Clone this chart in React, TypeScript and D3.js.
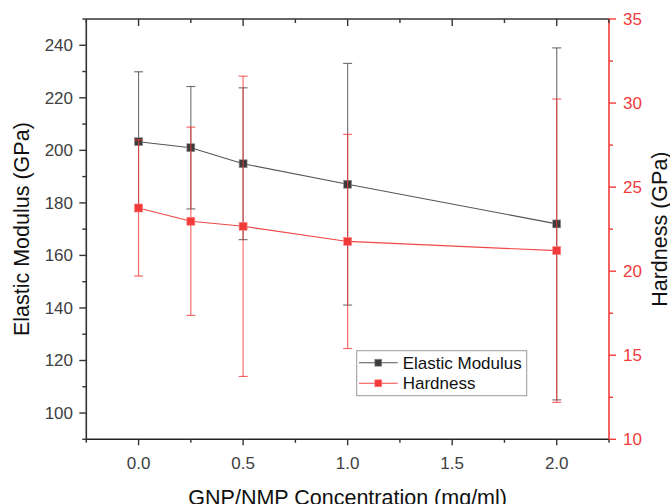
import React from "react";
import * as d3 from "d3";

const concentrations = [0.0, 0.25, 0.5, 1.0, 2.0];
const modulus = [203.3, 201.0, 194.9, 187.1, 172.0];
const modulusErr = [26.6, 23.3, 28.9, 46.0, 67.0];
const hardness = [23.76, 22.97, 22.67, 21.77, 21.22];
const hardnessErr = [4.05, 5.6, 8.93, 6.37, 9.02];
const xTicks = [0, 0.5, 1.0, 1.5, 2.0];
const xMinor = [-0.25, 0.25, 0.75, 1.25, 1.75, 2.25];
const yLeftTicks = [100, 120, 140, 160, 180, 200, 220, 240];
const yLeftMinor = [90, 110, 130, 150, 170, 190, 210, 230, 250];
const yRightTicks = [10, 15, 20, 25, 30, 35];
const yRightMinor = [12.5, 17.5, 22.5, 27.5, 32.5];

const W = 670, H = 504;
const L = 86.3, R = 609, T = 19, B = 439.3;
const FONT = "Arial, 'Liberation Sans', sans-serif";
const BLACK = "#3c3c3c";
const RED = "#f23a3a";

export default function App() {
  const x = d3.scaleLinear().domain([-0.25, 2.25]).range([L, R]);
  const yL = d3.scaleLinear().domain([90, 250]).range([B, T]);
  const yR = d3.scaleLinear().domain([10, 35]).range([B, T]);
  const fmtX = d3.format(".1f");

  const series = [
    { vals: modulus, errs: modulusErr, y: yL, color: BLACK, line: "#555", err: "rgba(60,60,60,0.75)", stroke: "#999" },
    { vals: hardness, errs: hardnessErr, y: yR, color: RED, line: "#f04848", err: "rgba(242,58,58,0.8)", stroke: "#f88" },
  ];

  const ms = 8;
  const cap = 4.5;

  return (
    <svg width={W} height={H} style={{ position: "absolute", left: 0, top: 0, background: "#fff" }}>
      {/* series */}
      {series.map((s, si) => {
        const line = d3.line<number>().x((_, i) => x(concentrations[i])).y((v) => s.y(v));
        return (
          <g key={si}>
            <path d={line(s.vals) || ""} fill="none" stroke={s.line} strokeWidth={1.1} />
            {s.vals.map((v, i) => {
              const cx = x(concentrations[i]);
              const y1 = s.y(v + s.errs[i]);
              const y2 = s.y(v - s.errs[i]);
              return (
                <g key={i} stroke={s.err} strokeWidth={1.1}>
                  <line x1={cx} x2={cx} y1={y1} y2={y2} />
                  <line x1={cx - cap} x2={cx + cap} y1={y1} y2={y1} />
                  <line x1={cx - cap} x2={cx + cap} y1={y2} y2={y2} />
                </g>
              );
            })}
            {s.vals.map((v, i) => (
              <rect key={"m" + i} x={x(concentrations[i]) - ms / 2} y={s.y(v) - ms / 2} width={ms} height={ms}
                fill={s.color} stroke={s.stroke} strokeWidth={0.6} />
            ))}
          </g>
        );
      })}

      {/* frame */}
      <line x1={L} x2={R} y1={T} y2={T} stroke="#333" strokeWidth={1.6} />
      <line x1={L} x2={R} y1={B} y2={B} stroke="#222" strokeWidth={1.6} />
      <line x1={L} x2={L} y1={T} y2={B} stroke="#333" strokeWidth={1.6} />
      <line x1={R} x2={R} y1={T} y2={B} stroke={RED} strokeWidth={1.6} />

      {/* bottom axis */}
      {xTicks.map((t) => (
        <g key={"xb" + t}>
          <line x1={x(t)} x2={x(t)} y1={B} y2={B + 6} stroke="#333" strokeWidth={1.4} />
          <line x1={x(t)} x2={x(t)} y1={T} y2={T + 7} stroke="#333" strokeWidth={1.4} />
          <text x={x(t)} y={468.5} textAnchor="middle" fontFamily={FONT} fontSize={17} fill="#404040">{fmtX(t)}</text>
        </g>
      ))}
      {xMinor.map((t) => (
        <g key={"xm" + t}>
          <line x1={x(t)} x2={x(t)} y1={B} y2={B + 3.5} stroke="#333" strokeWidth={1.4} />
          <line x1={x(t)} x2={x(t)} y1={T} y2={T + 4} stroke="#333" strokeWidth={1.4} />
        </g>
      ))}
      <text x={(L + R) / 2} y={505} textAnchor="middle" fontFamily={FONT} fontSize={21.5} fill="#111">GNP/NMP Concentration (mg/ml)</text>

      {/* left axis */}
      {yLeftTicks.map((t) => (
        <g key={"yl" + t}>
          <line x1={L - 7} x2={L} y1={yL(t)} y2={yL(t)} stroke="#333" strokeWidth={1.4} />
          <text x={73} y={yL(t) + 6} textAnchor="end" fontFamily={FONT} fontSize={17} fill="#404040">{t}</text>
        </g>
      ))}
      {yLeftMinor.map((t) => (
        <line key={"ylm" + t} x1={L - 4} x2={L} y1={yL(t)} y2={yL(t)} stroke="#333" strokeWidth={1.4} />
      ))}
      <text transform={`translate(29,${(T + B) / 2}) rotate(-90)`} textAnchor="middle" fontFamily={FONT} fontSize={21.5} fill="#111">Elastic Modulus (GPa)</text>

      {/* right axis */}
      {yRightTicks.map((t) => (
        <g key={"yr" + t}>
          <line x1={R} x2={R + 7} y1={yR(t)} y2={yR(t)} stroke={RED} strokeWidth={1.4} />
          <text x={623} y={yR(t) + 6} textAnchor="start" fontFamily={FONT} fontSize={17} fill={RED}>{t}</text>
        </g>
      ))}
      {yRightMinor.map((t) => (
        <line key={"yrm" + t} x1={R} x2={R + 4} y1={yR(t)} y2={yR(t)} stroke={RED} strokeWidth={1.4} />
      ))}
      <text transform={`translate(667,${(T + B) / 2}) rotate(-90)`} textAnchor="middle" fontFamily={FONT} fontSize={21.5} fill="#111">Hardness (GPa)</text>

      {/* legend */}
      <g>
        <rect x={356.7} y={350.7} width={170} height={45} fill="#fff" stroke="#999" strokeWidth={1} />
        {[{ label: "Elastic Modulus", s: series[0], y: 362.7 }, { label: "Hardness", s: series[1], y: 383.3 }].map((d, i) => (
          <g key={i}>
            <line x1={359} x2={397.7} y1={d.y} y2={d.y} stroke={d.s.line} strokeWidth={1.1} />
            <rect x={378.3 - 3.5} y={d.y - 3.5} width={7} height={7} fill={d.s.color} stroke={d.s.stroke} strokeWidth={0.6} />
            <text x={402.7} y={d.y + 6} fontFamily={FONT} fontSize={17} fill="#111">{d.label}</text>
          </g>
        ))}
      </g>
    </svg>
  );
}
